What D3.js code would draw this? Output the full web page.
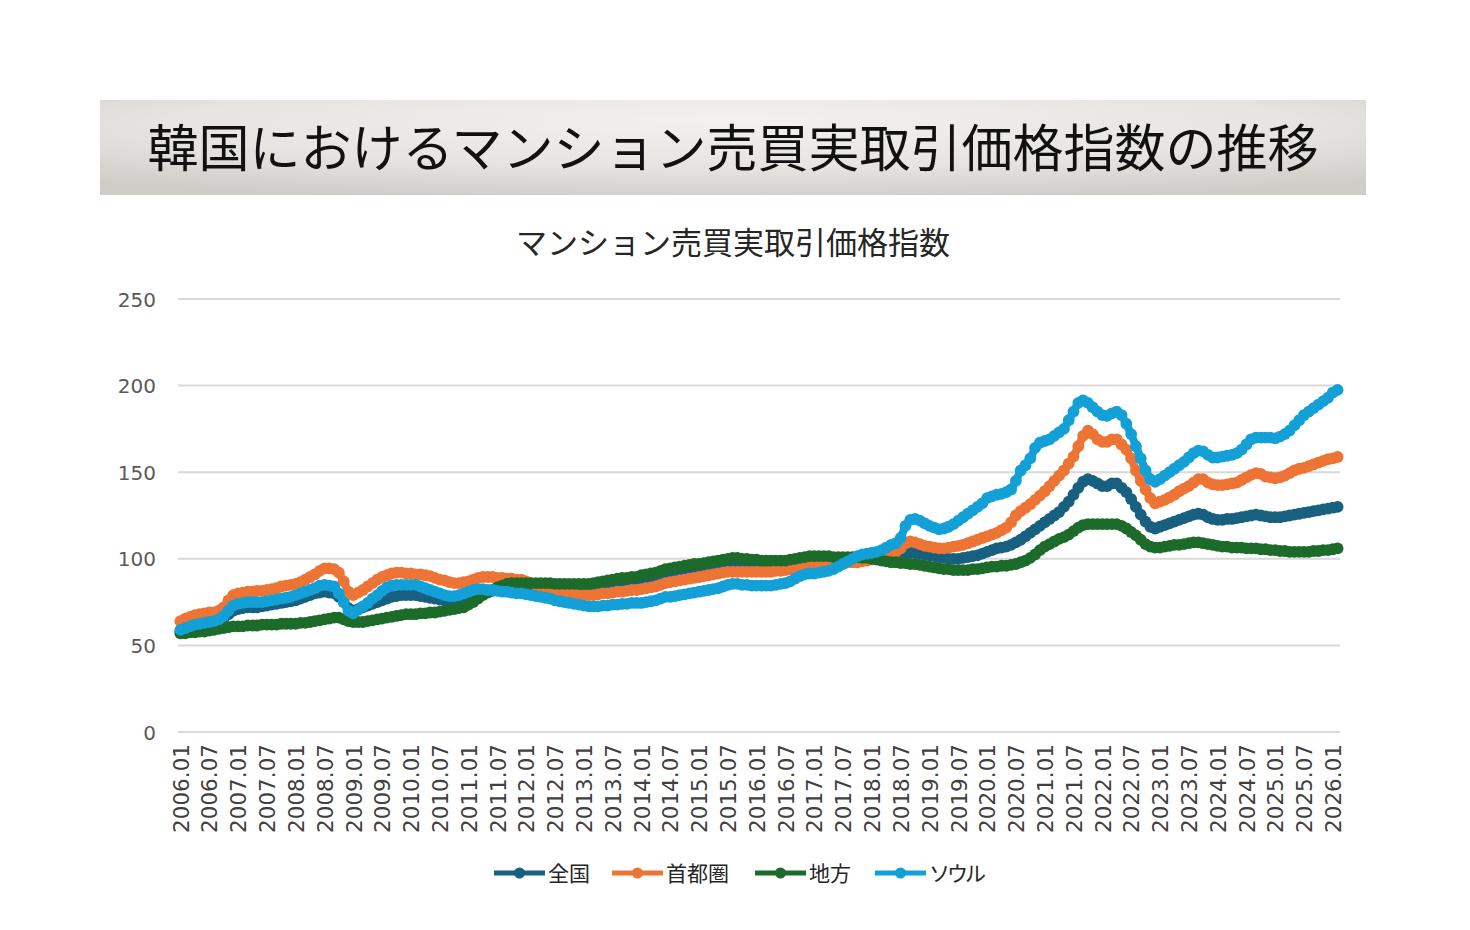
<!DOCTYPE html>
<html>
<head>
<meta charset="utf-8">
<script src="https://cdn.jsdelivr.net/npm/d3@7/dist/d3.min.js"></script>
<style>
  html, body { margin: 0; padding: 0; background: #ffffff; }
  svg { display: block; }
</style>
</head>
<body>
<svg id="chart" width="1470" height="930"></svg>
<script>
// ---------- DATA ----------
const mainTitle = "韓国におけるマンション売買実取引価格指数の推移";
const chartTitle = "マンション売買実取引価格指数";
const seriesNames = ["全国", "首都圏", "地方", "ソウル"];
const seriesColors = ["#17607f", "#ed7434", "#1d6b2a", "#12a0d7"];
const yTicks = [0, 50, 100, 150, 200, 250];

// months 2006.01 .. 2026.02
const categories = [];
for (let y = 2006; y <= 2026; y++) {
  for (let m = 1; m <= 12; m++) {
    if (y === 2026 && m > 2) break;
    categories.push(y + "." + String(m).padStart(2, "0"));
  }
}
const xTickLabels = categories.filter(c => c.endsWith(".01") || c.endsWith(".07"));

const national = [
  58,59,60,60.5,61,61.5,62,62.5,63.5,65.5,68,70,
  71,71.5,72,72,72,72.5,73,73.5,74,74.5,75,75.5,
  76,77,78,79,80,80.5,81,80.5,80,78,75,71.5,
  70,71,72,73,74,75,76,77,78,78.5,79,79,
  79,79,78.5,78,77.5,77,76.5,76,75.5,75.5,75.5,76,
  77,78,79,80,81,81.5,82,82.5,83,83,83.5,83.5,
  84,84,84,84,84,83.5,83.5,83.5,83,83,83,83,
  83,83,83.5,83.5,84,84,84.5,84.5,85,85,85.5,85.5,
  86,86.5,87,87.5,88,89,89.5,90,90.5,91,91.5,92,
  92.5,93,93.5,94,94.5,95,95.5,96,96,96,96,96,
  96,96,96,96,96,96,96.5,97,97,97.5,97.5,98,
  98,98,98,98.5,98.5,99,99,99,99.5,99.5,99.5,100,
  100,100.5,101,101.5,102,102,102.5,103,103.5,103.5,103,102.5,
  102,101.5,101,100.5,100,100,100,100.5,101,101.5,102,103,
  104,105,106,106.5,107,108,109.5,111,113,115,117,119,
  121,123,125,127,130,133,137,141,144.5,146,145,143.5,
  142,142,143.5,143.5,141,138.5,134.5,130,125.5,121.5,118.5,117.5,
  118.5,119.5,120.5,121.5,122.5,123.5,124.5,125.5,126,125.5,124,123,
  122.5,122.5,123,123,123.5,124,124.5,125,125.5,125,124.5,124,
  124,124,124.5,125,125.5,126,126.5,127,127.5,128,128.5,129,
  129.5,130
];
const capital = [
  64,65.5,66.5,67.5,68,68.5,69,69,70,72,76,79,
  80,80.5,81,81,81.5,81.5,82,82.5,83,84,84.5,85,
  85.5,86.5,88,89.5,91,93,94.5,94.5,94,92,87,81,
  79,80.5,82,84,86,88,89.5,90.5,91.5,92,92,91.5,
  91.5,91,91,90.5,90,89,88,87.5,86.5,86,86,86.5,
  87,88,89,89.5,89.5,89.5,89,89,88.5,88.5,88,88,
  87,86,85,84,83,82,81.5,81,80.5,80,79.5,79,
  79,79,79,79.5,80,80,80.5,81,81,81.5,82,82,
  82.5,83,83.5,84,85,86,86.5,87,87.5,88,88.5,89,
  89.5,90,90.5,91,91.5,92,92.5,92.5,92.5,92.5,92.5,92.5,
  92.5,92.5,92.5,92.5,93,93,93.5,94,94.5,95,95.5,96,
  96,96,96.5,96.5,97,97,97.5,98,98,98,98.5,99,
  99.5,100,101,102,103,104,106,109,110,109.5,108.5,107.5,
  107,106.5,106,106,106.5,107,107.5,108,109,110,111,112,
  113,114,115,116.5,118,121,125,127.5,129.5,131.5,134,136.5,
  139,142,145,148,151,155,159,165,171,174,172,169,
  167.5,167.5,169,169,166,163,158,151,145,140,135,132,
  133,134,135.5,137,139,140.5,142,144,146,146,144,143,
  142.5,142.5,143,143.5,144,145.5,147,148.5,149.5,149,147.5,147,
  146.5,147,148,149.5,151,152,152.5,153.5,154.5,155.5,156.5,157.5,
  158,158.8
];
const regional = [
  57,57,57.5,57.5,58,58,58.5,59,59.5,60,60.5,61,
  61,61,61.5,61.5,61.5,62,62,62,62,62.5,62.5,62.5,
  62.5,63,63,63.5,64,64.5,65,65.5,66,66,65,64,
  63.5,63.5,63.5,64,64.5,65,65.5,66,66.5,67,67.5,68,
  68,68,68.5,68.5,69,69,69.5,70,70.5,71,71.5,72,
  73.5,75,77,79,80.5,82,83.5,84.5,85.5,86,86,86,
  86,86,86,86,86,86,85.5,85.5,85.5,85.5,85.5,85.5,
  85.5,85.5,86,86.5,87,87.5,88,88.5,89,89,89.5,89.5,
  90.5,91,91.5,92,93,94,94.5,95,95.5,96,96.5,97,
  97,97.5,98,98.5,99,99.5,100,100.5,100.5,100,100,99.5,
  99.5,99,99,99,99,99,99,99.5,100,100.5,101,101.5,
  101.5,101.5,101.5,101.5,101,101,101,101,101,101,100.5,100.5,
  100,99.5,99,98.5,98,98,97.5,97.5,97,97,96.5,96,
  95.5,95,94.5,94,94,93.5,93.5,93.5,93.5,94,94,94.5,
  95,95.5,95.5,96,96,96.5,97,98,99,100.5,102.5,105,
  107,108.5,110,111.5,112.5,114,116,118,119.5,120,120,120,
  120,120,120,120,119,117.5,115.5,113.5,111,108.5,107,106.5,
  106.5,107,107.5,108,108,108.5,109,109.5,109.5,109,108.5,108,
  107.5,107,107,106.5,106.5,106.5,106,106,106,105.5,105.5,105,
  105,104.5,104.5,104,104,104,104,104,104.5,104.5,105,105,
  105.5,106
];
const seoul = [
  59,60,61,62,62.5,63,63.5,64,65,67,70,73,
  74,74.5,75,75,75,75,75.5,76,76.5,77,77.5,78,
  79,80,81,82,83,84.5,85,84.5,84,80,75,70,
  68.5,70.5,72.5,74.5,77,79,81.5,83.5,84.5,85,85,85,
  85,85,84,83,82,81,80,79,78.5,78.5,79,80,
  81,82,82.5,82.5,82,82,81.5,81,81,80.5,80,80,
  79.5,79,78.5,78,77.5,77,76,75.5,75,74.5,74,73.5,
  73,72.5,72.5,72.5,73,73,73.5,73.5,74,74,74.5,74.5,
  74.5,75,75.5,76,77,78,78,78.5,79,79.5,80,80.5,
  81,81.5,82,82.5,83,84,85,85.5,85.5,85,85,84.5,
  84.5,84.5,84.5,84.5,85,85.5,86,87,88.5,90,91,91.5,
  91.5,92,92.5,93,94,95.5,97,98.5,100,101.5,102.5,103,
  103.5,104,105,106.5,108,109,112,119,122.5,123,122,120.5,
  119,118,117,117.5,118.5,120,122,124,126,128,130,132,
  135,136,137,137.5,138.5,140,145,151,154,158,164,167,
  168,169,171,173,175,180,185,190,191.5,190,187.5,185,
  183,182.5,184,185,183,178,172,165,158,151,146,144.5,
  146,148,150,152,154,156,158.5,161,162.5,162,160,158.5,
  158.5,159,159.5,160,161,163,166,169,170,170,170,170,
  169.5,170.5,172,174,177,180,183,185,187,189,191,193,
  196,197.5
];
const seriesValues = [national, capital, regional, seoul];

// ---------- LAYOUT ----------
const svg = d3.select("#chart");
const plot = { left: 178, right: 1340, top: 299, bottom: 732 };
const cjk = "'Noto Sans CJK JP', 'Noto Sans', sans-serif";
const latin = "'DejaVu Sans', Verdana, sans-serif";

// title bar with gradient
const defs = svg.append("defs");
const rg = defs.append("radialGradient").attr("id", "tbg")
  .attr("cx", "50%").attr("cy", "30%").attr("r", "75%")
  .attr("fx", "50%").attr("fy", "20%");
rg.append("stop").attr("offset", "0%").attr("stop-color", "#f2f1ef");
rg.append("stop").attr("offset", "60%").attr("stop-color", "#e6e4e1");
rg.append("stop").attr("offset", "100%").attr("stop-color", "#cfcdc8");

svg.append("rect").attr("x", 100).attr("y", 100).attr("width", 1266).attr("height", 95)
  .attr("fill", "url(#tbg)");
svg.append("text").attr("x", 733).attr("y", 167)
  .attr("text-anchor", "middle")
  .attr("font-family", cjk).attr("font-size", 51).attr("font-weight", 400)
  .attr("fill", "#111111")
  .text(mainTitle);

svg.append("text").attr("x", 733).attr("y", 254)
  .attr("text-anchor", "middle")
  .attr("font-family", cjk).attr("font-size", 31)
  .attr("fill", "#262626")
  .text(chartTitle);

// scales
const x = d3.scalePoint().domain(categories).range([plot.left, plot.right]).padding(0.5);
const y = d3.scaleLinear().domain([0, 250]).range([plot.bottom, plot.top]);

// gridlines
svg.append("g").selectAll("line").data(yTicks).join("line")
  .attr("x1", plot.left).attr("x2", plot.right)
  .attr("y1", d => y(d)).attr("y2", d => y(d))
  .attr("stroke", "#d9d9d9").attr("stroke-width", 2);

// y axis
const yAxis = svg.append("g").attr("transform", `translate(${plot.left - 22},0)`)
  .call(d3.axisLeft(y).tickValues(yTicks).tickSize(0).tickPadding(0));
yAxis.select(".domain").remove();
yAxis.selectAll("text").attr("font-family", latin).attr("font-size", 20)
  .attr("fill", "#595959").attr("dy", "0.35em");

// x axis
const xAxis = svg.append("g").attr("transform", `translate(0,${plot.bottom})`)
  .call(d3.axisBottom(x).tickValues(xTickLabels).tickSize(0).tickPadding(0));
xAxis.select(".domain").remove();
xAxis.selectAll("text")
  .attr("font-family", latin).attr("font-size", 21.5).attr("fill", "#404040")
  .attr("transform", "rotate(-90)")
  .attr("text-anchor", "end")
  .attr("x", -12).attr("y", 0).attr("dy", "0.36em");

// series
const line = d3.line().x((d, i) => x(categories[i])).y(d => y(d));
seriesValues.forEach((vals, k) => {
  const g = svg.append("g");
  g.append("path").datum(vals).attr("d", line)
    .attr("fill", "none").attr("stroke", seriesColors[k])
    .attr("stroke-width", 8).attr("stroke-linejoin", "round");
  g.selectAll("circle").data(vals).join("circle")
    .attr("cx", (d, i) => x(categories[i])).attr("cy", d => y(d))
    .attr("r", 5.9).attr("fill", seriesColors[k]);
});

// legend
const legendX = [494, 612, 755, 875];
const lg = svg.append("g");
seriesNames.forEach((name, k) => {
  const gx = legendX[k], gy = 873;
  lg.append("line").attr("x1", gx).attr("x2", gx + 51).attr("y1", gy).attr("y2", gy)
    .attr("stroke", seriesColors[k]).attr("stroke-width", 5);
  lg.append("circle").attr("cx", gx + 25.5).attr("cy", gy).attr("r", 5.5).attr("fill", seriesColors[k]);
  lg.append("text").attr("x", gx + 54).attr("y", gy).attr("dy", "0.36em")
    .attr("font-family", cjk).attr("font-size", 21).attr("fill", "#262626")
    .attr("letter-spacing", name === "ソウル" ? -3 : 0)
    .text(name);
});
</script>
</body>
</html>
